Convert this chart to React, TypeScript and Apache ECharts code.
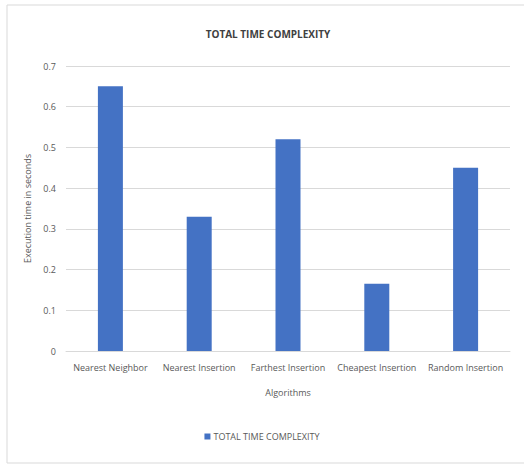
import React, { useEffect, useRef } from "react";
import * as echarts from "echarts";

const algorithms = [
  "Nearest Neighbor",
  "Nearest Insertion",
  "Farthest Insertion",
  "Cheapest Insertion",
  "Random Insertion",
];
const totalTime = [0.65, 0.33, 0.52, 0.165, 0.45];
const seriesName = "TOTAL TIME COMPLEXITY";

const FONT = "'Open Sans', 'Liberation Sans', sans-serif";

export default function App() {
  const ref = useRef<HTMLDivElement>(null);

  useEffect(() => {
    if (!ref.current) return;
    const chart = echarts.init(ref.current, null, { renderer: "svg" });
    chart.setOption({
      animation: false,
      backgroundColor: "#ffffff",
      textStyle: { fontFamily: FONT },
      graphic: [
        {
          type: "rect",
          shape: { x: 7, y: 5, width: 530, height: 458 },
          style: { fill: "none", stroke: "#d9d9d9", lineWidth: 1 },
          silent: true,
        },
      ],
      title: {
        text: "TOTAL TIME COMPLEXITY",
        left: 263,
        textAlign: "center",
        top: 24,
        textStyle: {
          fontFamily: FONT,
          fontSize: 10,
          fontWeight: "bold",
          color: "#404040",
        },
      },
      legend: {
        bottom: 18,
        left: "center",
        itemWidth: 6,
        itemHeight: 6,
        itemGap: 4,
        icon: "rect",
        textStyle: { fontFamily: FONT, fontSize: 9, color: "#595959", padding: [0, 0, 0, -2] },
        data: [seriesName],
      },
      grid: { left: 66, right: 14, top: 66, bottom: 113 },
      xAxis: {
        type: "category",
        data: algorithms,
        name: "Algorithms",
        nameLocation: "middle",
        nameGap: 37,
        nameTextStyle: { fontFamily: FONT, fontSize: 9, color: "#595959" },
        axisLine: { lineStyle: { color: "#d9d9d9" } },
        axisTick: { show: false },
        axisLabel: {
          fontFamily: FONT,
          fontSize: 9,
          color: "#595959",
          margin: 12,
          interval: 0,
        },
      },
      yAxis: {
        type: "value",
        min: 0,
        max: 0.7,
        interval: 0.1,
        name: "Execution time in seconds",
        nameLocation: "middle",
        nameGap: 24,
        nameTextStyle: { fontFamily: FONT, fontSize: 9, color: "#595959" },
        axisLine: { show: false },
        axisTick: { show: false },
        splitLine: { lineStyle: { color: "#d9d9d9" } },
        axisLabel: {
          fontFamily: FONT,
          fontSize: 9,
          color: "#595959",
          margin: 10,
          formatter: (v: number) => (v === 0 ? "0" : String(+v.toFixed(1))),
        },
      },
      series: [
        {
          name: seriesName,
          type: "bar",
          data: totalTime,
          barWidth: 25,
          itemStyle: { color: "#4472C4" },
        },
      ],
    });
    return () => chart.dispose();
  }, []);

  return (
    <div
      ref={ref}
      style={{ position: "fixed", left: 0, top: 0, width: 524, height: 464 }}
    />
  );
}
